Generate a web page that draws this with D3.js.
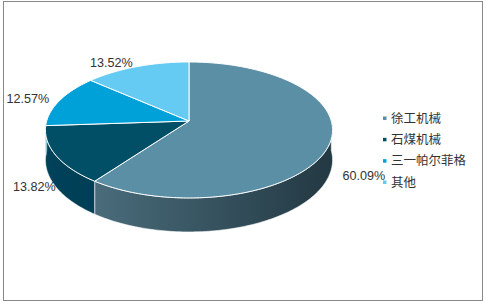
<!DOCTYPE html>
<html>
<head>
<meta charset="utf-8">
<script src="https://cdn.jsdelivr.net/npm/d3@7"></script>
<style>
  body { margin: 0; background: #fff; }
  svg { display: block; }
</style>
</head>
<body>
<svg id="chart" width="486" height="303"></svg>
<script>
// data
var categories = ['徐工机械', '石煤机械', '三一帕尔菲格', '其他'];
var shares = [60.09, 13.82, 12.57, 13.52];
var topColors = ['#5b8fa5', '#014f66', '#00a1d9', '#66cbf3'];
var sideColors = [['#517686', '#233943'], ['#00425a', '#00303f'], ['#008ab9', '#007aa5'], ['#57b0d4', '#4c9cbd']];

var svg = d3.select('#chart');

// frame
svg.append('rect')
    .attr('x', 3.5).attr('y', 1.5)
    .attr('width', 479).attr('height', 299)
    .attr('fill', '#fff').attr('stroke', '#888').attr('stroke-width', 1);

// fake 3d: circle in a tilted plane, with a little perspective
var cx = 189, cy = 121;
var R = 142.3;        // horizontal radius
var RY = 66.8;        // vertical radius before perspective
var K = 0.132;        // perspective strength
var DEPTH = 29.5;

function proj(theta, r, dz) {
    // theta: radians clockwise from 12 o'clock
    var u = Math.sin(theta) * r, v = -Math.cos(theta) * r;
    var s = 1 / (1 - K * v);
    return [cx + R * u * s, cy + RY * v * s + (dz || 0) * s];
}

var pie = d3.pie().sort(null).value(function (d) { return d; });
var arcs = pie(shares);

var defs = svg.append('defs');
arcs.forEach(function (a, i) {
    var g = defs.append('linearGradient')
        .attr('id', 'side' + i)
        .attr('gradientUnits', 'userSpaceOnUse')
        .attr('x1', cx - R).attr('x2', cx + R).attr('y1', 0).attr('y2', 0);
    g.append('stop').attr('offset', '0%').attr('stop-color', sideColors[i][0]);
    g.append('stop').attr('offset', '100%').attr('stop-color', sideColors[i][1]);
});

function arcPoints(a0, a1, dz) {
    var pts = [];
    var n = Math.max(2, Math.ceil((a1 - a0) / 0.02));
    for (var j = 0; j <= n; j++) pts.push(proj(a0 + (a1 - a0) * j / n, 1, dz));
    return pts;
}

var line = d3.line();

// side walls, front half only
var sides = svg.append('g');
arcs.forEach(function (a, i) {
    var a0 = Math.max(a.startAngle, Math.PI / 2);
    var a1 = Math.min(a.endAngle, Math.PI * 1.5);
    if (a1 <= a0) return;
    var top = arcPoints(a0, a1, 0);
    var bot = arcPoints(a0, a1, DEPTH).reverse();
    sides.append('path')
        .attr('d', line(top.concat(bot)) + 'Z')
        .attr('fill', 'url(#side' + i + ')')
        .attr('stroke', '#fff').attr('stroke-width', 0.6)
        .attr('stroke-linejoin', 'round');
});

// top faces
var tops = svg.append('g');
arcs.forEach(function (a, i) {
    var pts = [[cx, cy]].concat(arcPoints(a.startAngle, a.endAngle, 0));
    tops.append('path')
        .attr('d', line(pts) + 'Z')
        .attr('fill', topColors[i])
        .attr('stroke', '#fff').attr('stroke-width', 1)
        .attr('stroke-linejoin', 'round');
});

// data labels
var fmt = function (d) { return d.toFixed(2) + '%'; };
svg.append('g').selectAll('text')
    .data(arcs)
    .join('text')
    .each(function (a) {
        var mid = (a.startAngle + a.endAngle) / 2;
        var front = -Math.cos(mid) > 0;
        var left = Math.sin(mid) < 0;
        // front-left label sits a bit further in, like the original
        var p = proj(mid, front && left ? 1.0 : 1.085, front ? DEPTH : 0);
        d3.select(this)
            .attr('x', p[0])
            .attr('y', p[1])
            .attr('text-anchor', left ? 'end' : 'start');
    })
    .attr('dy', '0.35em')
    .attr('font-family', 'Liberation Sans, Arial, sans-serif')
    .attr('font-size', 12.6)
    .attr('fill', '#333')
    .text(function (a) { return fmt(a.data); });

// legend
var legendY = d3.scalePoint().domain(categories).range([118, 182]);
var legend = svg.append('g').selectAll('g')
    .data(categories)
    .join('g')
    .attr('transform', function (d) { return 'translate(383,' + legendY(d) + ')'; });
legend.append('rect')
    .attr('x', 0).attr('y', -1.5).attr('width', 3.5).attr('height', 3.5)
    .attr('fill', function (d, i) { return topColors[i]; });
legend.append('text')
    .attr('x', 8).attr('dy', '0.38em')
    .attr('font-family', 'Noto Sans CJK SC, sans-serif')
    .attr('font-size', 12.5)
    .attr('fill', '#333')
    .text(function (d) { return d; });
</script>
</body>
</html>
